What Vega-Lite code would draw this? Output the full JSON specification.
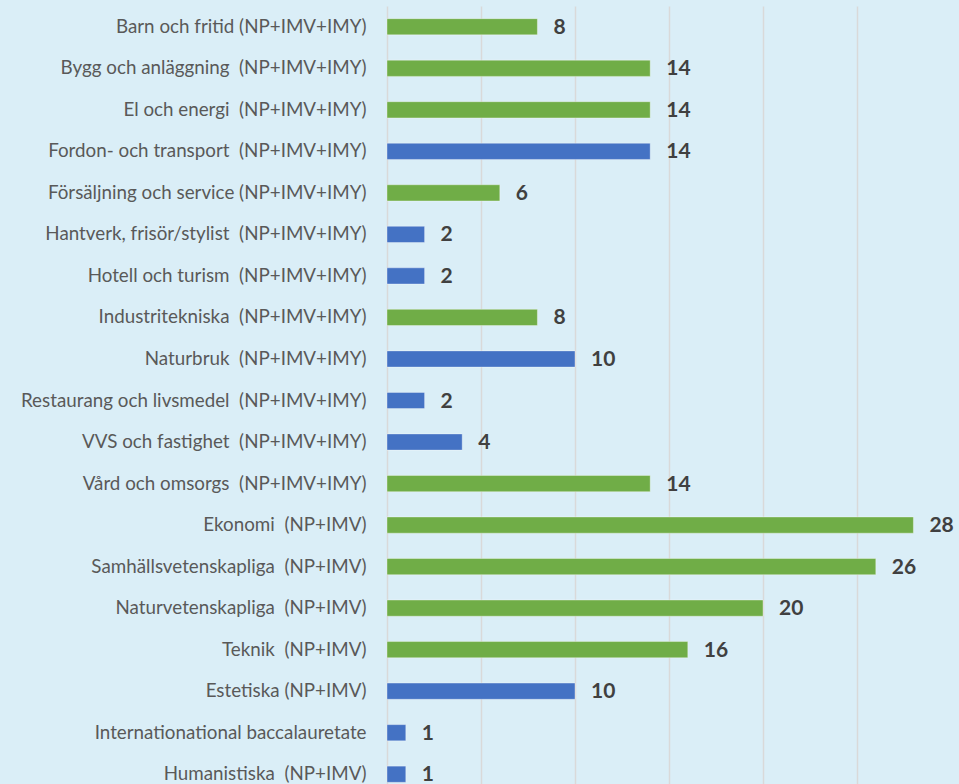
{
  "$schema": "https://vega.github.io/schema/vega-lite/v6.json",
  "autosize": {"type": "none"},
  "padding": {"left": 387, "top": 6, "right": 8, "bottom": 0},
  "width": 564,
  "height": 789,
  "background": "#DAEEF7",
  "config": {"view": {"stroke": null}},
  "data": {"values": [
    {"program": "Barn och fritid (NP+IMV+IMY)", "antal": 8, "typ": "grön"},
    {"program": "Bygg och anläggning\u00a0 (NP+IMV+IMY)", "antal": 14, "typ": "grön"},
    {"program": "El och energi\u00a0 (NP+IMV+IMY)", "antal": 14, "typ": "grön"},
    {"program": "Fordon- och transport\u00a0 (NP+IMV+IMY)", "antal": 14, "typ": "blå"},
    {"program": "Försäljning och service (NP+IMV+IMY)", "antal": 6, "typ": "grön"},
    {"program": "Hantverk, frisör/stylist\u00a0 (NP+IMV+IMY)", "antal": 2, "typ": "blå"},
    {"program": "Hotell och turism\u00a0 (NP+IMV+IMY)", "antal": 2, "typ": "blå"},
    {"program": "Industritekniska\u00a0 (NP+IMV+IMY)", "antal": 8, "typ": "grön"},
    {"program": "Naturbruk\u00a0 (NP+IMV+IMY)", "antal": 10, "typ": "blå"},
    {"program": "Restaurang och livsmedel\u00a0 (NP+IMV+IMY)", "antal": 2, "typ": "blå"},
    {"program": "VVS och fastighet\u00a0 (NP+IMV+IMY)", "antal": 4, "typ": "blå"},
    {"program": "Vård och omsorgs\u00a0 (NP+IMV+IMY)", "antal": 14, "typ": "grön"},
    {"program": "Ekonomi\u00a0 (NP+IMV)", "antal": 28, "typ": "grön"},
    {"program": "Samhällsvetenskapliga\u00a0 (NP+IMV)", "antal": 26, "typ": "grön"},
    {"program": "Naturvetenskapliga\u00a0 (NP+IMV)", "antal": 20, "typ": "grön"},
    {"program": "Teknik\u00a0 (NP+IMV)", "antal": 16, "typ": "grön"},
    {"program": "Estetiska (NP+IMV)", "antal": 10, "typ": "blå"},
    {"program": "Internationational baccalauretate\u00a0", "antal": 1, "typ": "blå"},
    {"program": "Humanistiska\u00a0 (NP+IMV)", "antal": 1, "typ": "blå"}
  ]},
  "encoding": {
    "y": {
      "field": "program", "type": "nominal", "sort": null,
      "scale": {"paddingInner": 0.61, "paddingOuter": 0.305},
      "axis": {"title": null, "domain": false, "ticks": false, "labelPadding": 21,
               "labelFont": "Lato", "labelFontSize": 18.8, "labelColor": "#595959", "labelLimit": 400}
    },
    "x": {
      "field": "antal", "type": "quantitative",
      "scale": {"domain": [0, 30], "nice": false},
      "axis": {"title": null, "labels": false, "ticks": false, "domain": false,
               "values": [0, 5, 10, 15, 20, 25], "gridColor": "#D9D9D9", "gridWidth": 1.5}
    }
  },
  "layer": [
    {
      "mark": {"type": "bar", "stroke": "#FFFFFF", "strokeOpacity": 0.35, "strokeWidth": 1},
      "encoding": {
        "color": {"field": "typ", "type": "nominal",
                  "scale": {"domain": ["grön", "blå"], "range": ["#70AD47", "#4472C4"]},
                  "legend": null}
      }
    },
    {
      "mark": {"type": "text", "align": "left", "baseline": "middle", "dx": 16, "dy": 1,
               "font": "Lato", "fontWeight": "bold", "fontSize": 21, "color": "#404040"},
      "encoding": {"text": {"field": "antal", "type": "quantitative"}}
    }
  ]
}
